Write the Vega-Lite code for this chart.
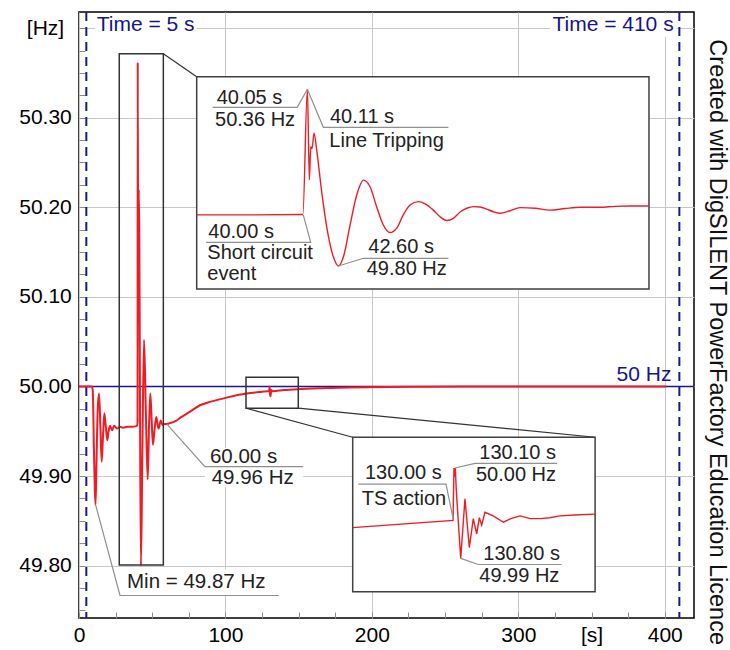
{
  "$schema": "https://vega.github.io/schema/vega-lite/v6.json",
  "width": 615,
  "height": 606,
  "autosize": {"type": "none"},
  "padding": {"left": 79, "top": 12, "right": 36, "bottom": 32},
  "background": "white",
  "config": {
    "view": {"stroke": "#000000", "strokeWidth": 1.5},
    "font": "Liberation Sans",
    "text": {"font": "Liberation Sans", "fontSize": 20}
  },
  "title": {
    "text": "Created with DigSILENT PowerFactory Education Licence",
    "orient": "right",
    "anchor": "end",
    "frame": "bounds",
    "offset": -13,
    "fontSize": 23.5,
    "fontWeight": "normal",
    "color": "#111111",
    "font": "Liberation Sans",
    "baseline": "bottom"
  },
  "datasets": {
    "main": [
      {"t":0,"f":50.0},{"t":8.8,"f":50.0},{"t":9.4,"f":49.995},{"t":10.2,"f":49.93},{"t":10.8,"f":49.885},{"t":11.3,"f":49.868},{"t":12.0,"f":49.92},{"t":12.8,"f":49.975},{"t":13.7,"f":49.992},{"t":14.6,"f":49.955},{"t":15.5,"f":49.916},{"t":16.4,"f":49.945},{"t":17.3,"f":49.97},{"t":18.3,"f":49.955},{"t":19.3,"f":49.94},{"t":20.2,"f":49.95},{"t":21.2,"f":49.956},{"t":22.5,"f":49.951},{"t":24,"f":49.956},{"t":26,"f":49.953},{"t":28,"f":49.955},{"t":30,"f":49.954},{"t":33,"f":49.955},{"t":36,"f":49.955},{"t":39.6,"f":49.956},{"t":40.0,"f":49.96},{"t":40.1,"f":50.362},{"t":40.45,"f":50.07},{"t":40.8,"f":50.22},{"t":41.2,"f":50.167},{"t":41.7,"f":49.96},{"t":42.3,"f":49.8},{"t":43.3,"f":49.93},{"t":44.4,"f":50.052},{"t":45.6,"f":49.975},{"t":46.9,"f":49.896},{"t":47.8,"f":49.955},{"t":48.7,"f":49.992},{"t":49.6,"f":49.963},{"t":50.5,"f":49.935},{"t":51.6,"f":49.952},{"t":52.8,"f":49.966},{"t":53.6,"f":49.958},{"t":54.4,"f":49.953},{"t":55.8,"f":49.962},{"t":57,"f":49.957},{"t":58.5,"f":49.958},{"t":60,"f":49.958},{"t":62,"f":49.959},{"t":65.5,"f":49.961},{"t":70,"f":49.966},{"t":75,"f":49.971},{"t":82.6,"f":49.979},{"t":90,"f":49.983},{"t":100.8,"f":49.9875},{"t":114.5,"f":49.992},{"t":125,"f":49.994},{"t":129.9,"f":49.9948},{"t":130.1,"f":50.0},{"t":130.4,"f":49.992},{"t":130.8,"f":49.989},{"t":131.3,"f":49.996},{"t":132,"f":49.9947},{"t":140,"f":49.996},{"t":149.5,"f":49.997},{"t":165,"f":49.998},{"t":185,"f":49.9988},{"t":210,"f":49.9994},{"t":240,"f":49.9997},{"t":280,"f":50.0},{"t":401,"f":50.0}
    ],
    "inset1": [
      {"t":32.0,"f":49.962},{"t":36.0,"f":49.962},{"t":39.98,"f":49.963},{"t":40.32,"f":50.36},{"t":40.47,"f":50.073},{"t":40.57,"f":50.178},{"t":40.67,"f":50.172},{"t":40.82,"f":50.221},{"t":41.02,"f":50.168},{"t":41.35,"f":50.051},{"t":41.77,"f":49.925},{"t":42.27,"f":49.829},{"t":42.65,"f":49.8},{"t":43.07,"f":49.835},{"t":43.53,"f":49.93},{"t":44.03,"f":50.025},{"t":44.53,"f":50.072},{"t":45.03,"f":50.051},{"t":45.53,"f":49.987},{"t":46.03,"f":49.93},{"t":46.53,"f":49.906},{"t":47.04,"f":49.92},{"t":47.53,"f":49.962},{"t":48.04,"f":49.993},{"t":48.66,"f":50.004},{"t":49.17,"f":49.997},{"t":49.79,"f":49.977},{"t":50.29,"f":49.956},{"t":50.8,"f":49.944},{"t":51.29,"f":49.951},{"t":51.8,"f":49.971},{"t":52.3,"f":49.983},{"t":52.8,"f":49.988},{"t":53.3,"f":49.987},{"t":53.8,"f":49.98},{"t":54.3,"f":49.972},{"t":54.8,"f":49.967},{"t":55.56,"f":49.975},{"t":56.31,"f":49.985},{"t":57.44,"f":49.983},{"t":58.56,"f":49.977},{"t":59.69,"f":49.982},{"t":60.82,"f":49.986},{"t":62.32,"f":49.986},{"t":63.45,"f":49.989},{"t":64.58,"f":49.99},{"t":66.0,"f":49.99}
    ],
    "inset2": [
      {"t":119.1,"f":49.9934},{"t":129.95,"f":49.99421},{"t":130.05,"f":50.0},{"t":130.12,"f":49.999},{"t":130.2,"f":50.0},{"t":130.3,"f":49.9975},{"t":130.78,"f":49.99},{"t":131.24,"f":49.9966},{"t":131.71,"f":49.9912},{"t":132.14,"f":49.9944},{"t":132.51,"f":49.9927},{"t":132.79,"f":49.9945},{"t":133.05,"f":49.9937},{"t":133.4,"f":49.9951},{"t":134.3,"f":49.9947},{"t":135.4,"f":49.994},{"t":136.2,"f":49.9944},{"t":137.2,"f":49.9947},{"t":138.3,"f":49.9944},{"t":139.4,"f":49.9944},{"t":140.4,"f":49.9945},{"t":141.5,"f":49.9947},{"t":143.1,"f":49.9948},{"t":145.3,"f":49.9949}
    ]
  },
  "layer": [
    {
      "data": {"values": [
        {"t":10.9,"t2":80.3,"f":50.39,"f2":50.416},
        {"t":321.5,"t2":408.2,"f":50.39,"f2":50.416},
        {"t":86.0,"t2":153.1,"f":49.8878,"f2":49.9313},
        {"t":28.0,"t2":136.5,"f":49.7666,"f2":49.7956}
      ]},
      "mark": {"type": "rect", "fill": "white", "strokeWidth": 0},
      "encoding": {
        "x": {"field": "t", "type": "quantitative", "scale": {"domain": [0, 420], "nice": false, "zero": false},
          "axis": {
            "orient": "bottom",
            "title": null,
            "values": [0,25,50,75,100,125,150,175,200,225,250,275,300,325,350,375,400],
            "labelExpr": "datum.value == 350 ? '[s]' : (datum.value % 100 == 0 ? datum.label : '')",
            "labelFontSize": 21, "labelColor": "#000000", "labelFont": "Liberation Sans",
            "labelPadding": 12, "labelFlush": false, "labelOverlap": false,
            "domain": false,
            "grid": true, "gridColor": "#c8c8c8", "gridWidth": 1,
            "gridOpacity": {"condition": {"test": "datum.value % 100 == 0", "value": 1}, "value": 0},
            "ticks": true, "tickSize": -6, "tickColor": "#8c8c8c", "tickWidth": 1
          }},
        "x2": {"field": "t2"},
        "y": {"field": "f", "type": "quantitative", "scale": {"domain": [49.7415, 50.418], "nice": false, "zero": false},
          "axis": {
            "orient": "left",
            "title": null,
            "values": [49.75,49.775,49.8,49.825,49.85,49.875,49.9,49.925,49.95,49.975,50,50.025,50.05,50.075,50.1,50.125,50.15,50.175,50.2,50.225,50.25,50.275,50.3,50.325,50.35,50.375,50.4],
            "labelExpr": "abs(datum.value*10 - round(datum.value*10)) < 0.001 ? (datum.value > 50.35 ? '[Hz]' : format(datum.value, '.2f')) : ''",
            "labelFontSize": 21, "labelColor": "#000000", "labelFont": "Liberation Sans",
            "labelAlign": "center", "labelPadding": 40, "labelFlush": false, "labelOverlap": false,
            "domain": false,
            "grid": true, "gridColor": "#c8c8c8", "gridWidth": 1,
            "gridOpacity": {"condition": {"test": "abs(datum.value*10 - round(datum.value*10)) < 0.001", "value": 1}, "value": 0},
            "ticks": true, "tickSize": -6, "tickColor": "#8c8c8c", "tickWidth": 1
          }},
        "y2": {"field": "f2"}
      }
    },
    {
      "data": {"values": [{"f": 50}]},
      "mark": {"type": "rule", "color": "#1a1a8c", "strokeWidth": 1.5},
      "encoding": {
        "y": {"field": "f", "type": "quantitative", "scale": {"domain": [49.7415, 50.418], "nice": false, "zero": false}, "axis": null}
      }
    },
    {
      "data": {"values": [{"t": 5}, {"t": 410}]},
      "mark": {"type": "rule", "color": "#1a1a8c", "strokeWidth": 2, "strokeDash": [9, 6]},
      "encoding": {
        "x": {"field": "t", "type": "quantitative", "scale": {"domain": [0, 420], "nice": false, "zero": false}, "axis": null}
      }
    },
    {
      "data": {"name": "main"},
      "mark": {"type": "line", "color": "#ee1c24", "strokeWidth": 2, "interpolate": "monotone"},
      "encoding": {
        "x": {"field": "t", "type": "quantitative", "scale": {"domain": [0, 420], "nice": false, "zero": false}, "axis": null},
        "y": {"field": "f", "type": "quantitative", "scale": {"domain": [49.7415, 50.418], "nice": false, "zero": false}, "axis": null}
      }
    },
    {
      "data": {"values": [
        {"t":27.5,"t2":57.6,"f":49.8006,"f2":50.3713},
        {"t":114.05,"t2":149.76,"f":49.9757,"f2":50.0103}
      ]},
      "mark": {"type": "rect", "fillOpacity": 0, "stroke": "#333333", "strokeWidth": 1.5},
      "encoding": {
        "x": {"field": "t", "type": "quantitative", "scale": {"domain": [0, 420], "nice": false, "zero": false}, "axis": null},
        "x2": {"field": "t2"},
        "y": {"field": "f", "type": "quantitative", "scale": {"domain": [49.7415, 50.418], "nice": false, "zero": false}, "axis": null},
        "y2": {"field": "f2"}
      }
    },
    {
      "data": {"values": [
        {"t":57.6,"f":50.3713,"t2":80.38,"f2":50.3456},
        {"t":114.05,"f":49.9757,"t2":186.92,"f2":49.9433},
        {"t":149.76,"f":49.9757,"t2":352.46,"f2":49.9433}
      ]},
      "mark": {"type": "rule", "color": "#333333", "strokeWidth": 1.2},
      "encoding": {
        "x": {"field": "t", "type": "quantitative", "scale": {"domain": [0, 420], "nice": false, "zero": false}, "axis": null},
        "x2": {"field": "t2"},
        "y": {"field": "f", "type": "quantitative", "scale": {"domain": [49.7415, 50.418], "nice": false, "zero": false}, "axis": null},
        "y2": {"field": "f2"}
      }
    },
    {
      "data": {"values": [
        {"t":80.38,"t2":389.26,"f":50.1089,"f2":50.3456},
        {"t":186.92,"t2":352.46,"f":49.7708,"f2":49.9433}
      ]},
      "mark": {"type": "rect", "fill": "white", "stroke": "#404040", "strokeWidth": 1.5},
      "encoding": {
        "x": {"field": "t", "type": "quantitative", "scale": {"domain": [0, 420], "nice": false, "zero": false}, "axis": null},
        "x2": {"field": "t2"},
        "y": {"field": "f", "type": "quantitative", "scale": {"domain": [49.7415, 50.418], "nice": false, "zero": false}, "axis": null},
        "y2": {"field": "f2"}
      }
    },
    {
      "data": {"values": [
        {"g":"m1","i":1,"t":60,"f":49.958},{"g":"m1","i":2,"t":86.0,"f":49.9104},{"g":"m1","i":3,"t":153.1,"f":49.9104},
        {"g":"m2","i":1,"t":11.3,"f":49.868},{"g":"m2","i":2,"t":28.0,"f":49.7666},{"g":"m2","i":3,"t":136.5,"f":49.7666}
      ]},
      "mark": {"type": "line", "color": "#909090", "strokeWidth": 1.2},
      "encoding": {
        "x": {"field": "t", "type": "quantitative", "scale": {"domain": [0, 420], "nice": false, "zero": false}, "axis": null},
        "y": {"field": "f", "type": "quantitative", "scale": {"domain": [49.7415, 50.418], "nice": false, "zero": false}, "axis": null},
        "detail": {"field": "g"},
        "order": {"field": "i"}
      }
    },
    {
      "data": {"values": [
        {"t":89.4,"f":49.9216,"txt":"60.00 s"},
        {"t":90.6,"f":49.8975,"txt":"49.96 Hz"},
        {"t":32.8,"f":49.7817,"txt":"Min = 49.87 Hz"}
      ]},
      "mark": {"type": "text", "align": "left", "baseline": "middle", "color": "#222222", "fontSize": 20.5},
      "encoding": {
        "x": {"field": "t", "type": "quantitative", "scale": {"domain": [0, 420], "nice": false, "zero": false}, "axis": null},
        "y": {"field": "f", "type": "quantitative", "scale": {"domain": [49.7415, 50.418], "nice": false, "zero": false}, "axis": null},
        "text": {"field": "txt"}
      }
    },
    {
      "data": {"values": [{"t":12.1,"f":50.4035,"txt":"Time = 5 s"}]},
      "mark": {"type": "text", "align": "left", "baseline": "middle", "color": "#14148c", "fontSize": 21},
      "encoding": {
        "x": {"field": "t", "type": "quantitative", "scale": {"domain": [0, 420], "nice": false, "zero": false}, "axis": null},
        "y": {"field": "f", "type": "quantitative", "scale": {"domain": [49.7415, 50.418], "nice": false, "zero": false}, "axis": null},
        "text": {"field": "txt"}
      }
    },
    {
      "data": {"values": [
        {"t":406.1,"f":50.4035,"txt":"Time = 410 s"},
        {"t":404.6,"f":50.0128,"txt":"50 Hz"}
      ]},
      "mark": {"type": "text", "align": "right", "baseline": "middle", "color": "#14148c", "fontSize": 21},
      "encoding": {
        "x": {"field": "t", "type": "quantitative", "scale": {"domain": [0, 420], "nice": false, "zero": false}, "axis": null},
        "y": {"field": "f", "type": "quantitative", "scale": {"domain": [49.7415, 50.418], "nice": false, "zero": false}, "axis": null},
        "text": {"field": "txt"}
      }
    },
    {
      "data": {"name": "inset1"},
      "mark": {"type": "line", "color": "#ee1c24", "strokeWidth": 1.4, "interpolate": "monotone"},
      "encoding": {
        "x": {"field": "t", "type": "quantitative", "scale": {"domain": [32, 66], "range": [117.7, 570], "nice": false, "zero": false}, "axis": null},
        "y": {"field": "f", "type": "quantitative", "scale": {"domain": [49.727, 50.4], "range": [277, 64.7], "nice": false, "zero": false}, "axis": null}
      }
    },
    {
      "data": {"values": [
        {"g":"a","i":1,"t":33.2,"f":50.303},{"g":"a","i":2,"t":39.56,"f":50.303},{"g":"a","i":3,"t":40.32,"f":50.36},
        {"g":"b","i":1,"t":40.32,"f":50.36},{"g":"b","i":2,"t":41.52,"f":50.2396},{"g":"b","i":3,"t":50.92,"f":50.2396},
        {"g":"c","i":1,"t":32.7,"f":49.8751},{"g":"c","i":2,"t":40.57,"f":49.8751},{"g":"c","i":3,"t":40.01,"f":49.9617},
        {"g":"d","i":1,"t":42.65,"f":49.8},{"g":"d","i":2,"t":44.53,"f":49.8244},{"g":"d","i":3,"t":50.92,"f":49.8244}
      ]},
      "mark": {"type": "line", "color": "#909090", "strokeWidth": 1.2},
      "encoding": {
        "x": {"field": "t", "type": "quantitative", "scale": {"domain": [32, 66], "range": [117.7, 570], "nice": false, "zero": false}, "axis": null},
        "y": {"field": "f", "type": "quantitative", "scale": {"domain": [49.727, 50.4], "range": [277, 64.7], "nice": false, "zero": false}, "axis": null},
        "detail": {"field": "g"},
        "order": {"field": "i"}
      }
    },
    {
      "data": {"values": [
        {"t":33.5,"f":50.3325,"txt":"40.05 s"},
        {"t":33.38,"f":50.2628,"txt":"50.36 Hz"},
        {"t":42.02,"f":50.2732,"txt":"40.11 s"},
        {"t":41.97,"f":50.197,"txt":"Line Tripping"},
        {"t":32.87,"f":49.9087,"txt":"40.00 s"},
        {"t":32.8,"f":49.8422,"txt":"Short circuit"},
        {"t":32.8,"f":49.7747,"txt":"event"},
        {"t":44.9,"f":49.8593,"txt":"42.60 s"},
        {"t":44.78,"f":49.7896,"txt":"49.80 Hz"}
      ]},
      "mark": {"type": "text", "align": "left", "baseline": "middle", "color": "#222222", "fontSize": 20},
      "encoding": {
        "x": {"field": "t", "type": "quantitative", "scale": {"domain": [32, 66], "range": [117.7, 570], "nice": false, "zero": false}, "axis": null},
        "y": {"field": "f", "type": "quantitative", "scale": {"domain": [49.727, 50.4], "range": [277, 64.7], "nice": false, "zero": false}, "axis": null},
        "text": {"field": "txt"}
      }
    },
    {
      "data": {"name": "inset2"},
      "mark": {"type": "line", "color": "#ee1c24", "strokeWidth": 1.4},
      "encoding": {
        "x": {"field": "t", "type": "quantitative", "scale": {"domain": [119.1, 145.3], "range": [273.7, 516], "nice": false, "zero": false}, "axis": null},
        "y": {"field": "f", "type": "quantitative", "scale": {"domain": [49.9865, 50.0034], "range": [578, 425.3], "nice": false, "zero": false}, "axis": null}
      }
    },
    {
      "data": {"values": [
        {"g":"a","i":1,"t":119.71,"f":49.99821},{"g":"a","i":2,"t":129.19,"f":49.99821},{"g":"a","i":3,"t":129.98,"f":49.99429},
        {"g":"b","i":1,"t":130.16,"f":50.0},{"g":"b","i":2,"t":132.32,"f":50.00051},{"g":"b","i":3,"t":141.22,"f":50.00051},
        {"g":"c","i":1,"t":130.78,"f":49.99},{"g":"c","i":2,"t":132.68,"f":49.98932},{"g":"c","i":3,"t":141.7,"f":49.98932}
      ]},
      "mark": {"type": "line", "color": "#909090", "strokeWidth": 1.2},
      "encoding": {
        "x": {"field": "t", "type": "quantitative", "scale": {"domain": [119.1, 145.3], "range": [273.7, 516], "nice": false, "zero": false}, "axis": null},
        "y": {"field": "f", "type": "quantitative", "scale": {"domain": [49.9865, 50.0034], "range": [578, 425.3], "nice": false, "zero": false}, "axis": null},
        "detail": {"field": "g"},
        "order": {"field": "i"}
      }
    },
    {
      "data": {"values": [
        {"t":120.43,"f":49.9994,"txt":"130.00 s"},
        {"t":120.07,"f":49.99662,"txt":"TS action"},
        {"t":132.79,"f":50.00162,"txt":"130.10 s"},
        {"t":132.43,"f":49.99921,"txt":"50.00 Hz"},
        {"t":133.22,"f":49.99051,"txt":"130.80 s"},
        {"t":132.79,"f":49.9881,"txt":"49.99 Hz"}
      ]},
      "mark": {"type": "text", "align": "left", "baseline": "middle", "color": "#222222", "fontSize": 20},
      "encoding": {
        "x": {"field": "t", "type": "quantitative", "scale": {"domain": [119.1, 145.3], "range": [273.7, 516], "nice": false, "zero": false}, "axis": null},
        "y": {"field": "f", "type": "quantitative", "scale": {"domain": [49.9865, 50.0034], "range": [578, 425.3], "nice": false, "zero": false}, "axis": null},
        "text": {"field": "txt"}
      }
    }
  ],
  "resolve": {"scale": {"x": "independent", "y": "independent"}}
}
